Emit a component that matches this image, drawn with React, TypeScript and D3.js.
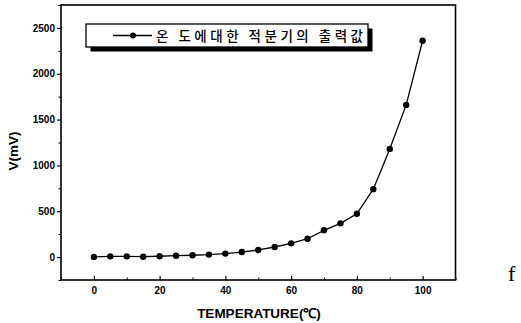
import { useRef, useEffect } from 'react';
import * as d3 from 'd3';

const temps = [0, 5, 10, 15, 20, 25, 30, 35, 40, 45, 50, 55, 60, 65, 70, 75, 80, 85, 90, 95, 100];
const volts = [2, 8, 8, 4, 9, 15, 20, 27, 38, 55, 78, 110, 150, 200, 292, 368, 472, 741, 1180, 1660, 2360];

const xMajor = [0, 20, 40, 60, 80, 100];
const xMinor = [-10, 10, 30, 50, 70, 90, 110];
const yMajor = [0, 500, 1000, 1500, 2000, 2500];
const yMinor = [-250, 250, 750, 1250, 1750, 2250, 2750];

const legendLabel = '온 도에대한 적분기의 출력값';

export default function App() {
  const svgRef = useRef<SVGSVGElement>(null);

  useEffect(() => {
    if (!svgRef.current) return;
    const svg = d3.select(svgRef.current);
    svg.selectAll('*').remove();

    const left = 61, right = 455.5, top = 5, bottom = 280;
    const x = d3.scaleLinear().domain([-10, 110]).range([left, right]);
    const y = d3.scaleLinear().domain([-250, 2750]).range([bottom, top]);
    const font = '"Liberation Sans", Arial, sans-serif';
    const fmt = d3.format('d');

    // x axis (ticks pointing inward)
    svg.append('g')
      .attr('transform', `translate(0,${bottom})`)
      .call(d3.axisBottom(x).tickValues(xMajor).tickSize(-4).tickPadding(7).tickFormat((d) => fmt(d as number)))
      .call((g) => g.select('.domain').remove())
      .call((g) => g.selectAll('line').attr('stroke-width', 1.2))
      .selectAll('text')
      .style('font-family', font).style('font-size', '10px').style('font-weight', 'bold')
      .attr('fill', '#000');
    svg.append('g')
      .attr('transform', `translate(0,${bottom})`)
      .call(d3.axisBottom(x).tickValues(xMinor).tickSize(-2.5).tickFormat(() => ''))
      .call((g) => g.select('.domain').remove());

    // y axis (ticks pointing outward)
    svg.append('g')
      .attr('transform', `translate(${left},0)`)
      .call(d3.axisLeft(y).tickValues(yMajor).tickSize(4).tickPadding(2).tickFormat((d) => fmt(d as number)))
      .call((g) => g.select('.domain').remove())
      .call((g) => g.selectAll('line').attr('stroke-width', 1.2))
      .selectAll('text')
      .style('font-family', font).style('font-size', '10px').style('font-weight', 'bold')
      .attr('fill', '#000');
    svg.append('g')
      .attr('transform', `translate(${left},0)`)
      .call(d3.axisLeft(y).tickValues(yMinor).tickSize(2.5).tickFormat(() => ''))
      .call((g) => g.select('.domain').remove());

    // frame
    svg.append('rect')
      .attr('x', left).attr('y', top)
      .attr('width', right - left).attr('height', bottom - top)
      .attr('fill', 'none').attr('stroke', '#000').attr('stroke-width', 1.6);

    // series
    const line = d3.line<number>()
      .x((_, i) => x(temps[i]))
      .y((d) => y(d));
    svg.append('path')
      .datum(volts)
      .attr('d', line)
      .attr('fill', 'none').attr('stroke', '#000').attr('stroke-width', 1.3);
    svg.selectAll('circle.pt')
      .data(volts)
      .join('circle')
      .attr('class', 'pt')
      .attr('cx', (_, i) => x(temps[i]))
      .attr('cy', (d) => y(d))
      .attr('r', 3.2)
      .attr('fill', '#000');

    // legend
    const lx = 86, ly = 24, lw = 282, lh = 23;
    svg.append('rect')
      .attr('x', lx + 4.5).attr('y', ly + 4.5).attr('width', lw).attr('height', lh)
      .attr('fill', '#000');
    svg.append('rect')
      .attr('x', lx).attr('y', ly).attr('width', lw).attr('height', lh)
      .attr('fill', '#fff').attr('stroke', '#000').attr('stroke-width', 1.3);
    const cy = ly + lh / 2;
    svg.append('line')
      .attr('x1', 113).attr('x2', 152).attr('y1', cy).attr('y2', cy)
      .attr('stroke', '#000').attr('stroke-width', 1.3);
    svg.append('circle').attr('cx', 133).attr('cy', cy).attr('r', 3).attr('fill', '#000');
    svg.append('text')
      .attr('x', 156).attr('y', cy + 5)
      .attr('textLength', 207).attr('lengthAdjust', 'spacing')
      .style('font-family', '"Noto Sans CJK KR", sans-serif').style('font-size', '13.5px')
      .style('font-weight', 500)
      .attr('fill', '#000')
      .text(legendLabel);

    // axis titles
    svg.append('text')
      .attr('x', 259).attr('y', 317.5)
      .attr('text-anchor', 'middle')
      .style('font-family', font).style('font-size', '13.5px').style('font-weight', 'bold')
      .attr('fill', '#000')
      .text('TEMPERATURE(℃)');
    svg.append('text')
      .attr('transform', 'translate(17.5,151) rotate(-90)')
      .attr('text-anchor', 'middle')
      .style('font-family', font).style('font-size', '13.5px').style('font-weight', 'bold')
      .attr('fill', '#000')
      .text('V(mV)');

    svg.append('text')
      .attr('x', 508).attr('y', 281)
      .style('font-family', '"Liberation Serif", serif').style('font-size', '22px')
      .attr('fill', '#000')
      .text('f');
  }, []);

  return (
    <svg
      ref={svgRef}
      width={521}
      height={323}
      style={{ position: 'absolute', left: 0, top: 0, background: '#fff' }}
    />
  );
}
